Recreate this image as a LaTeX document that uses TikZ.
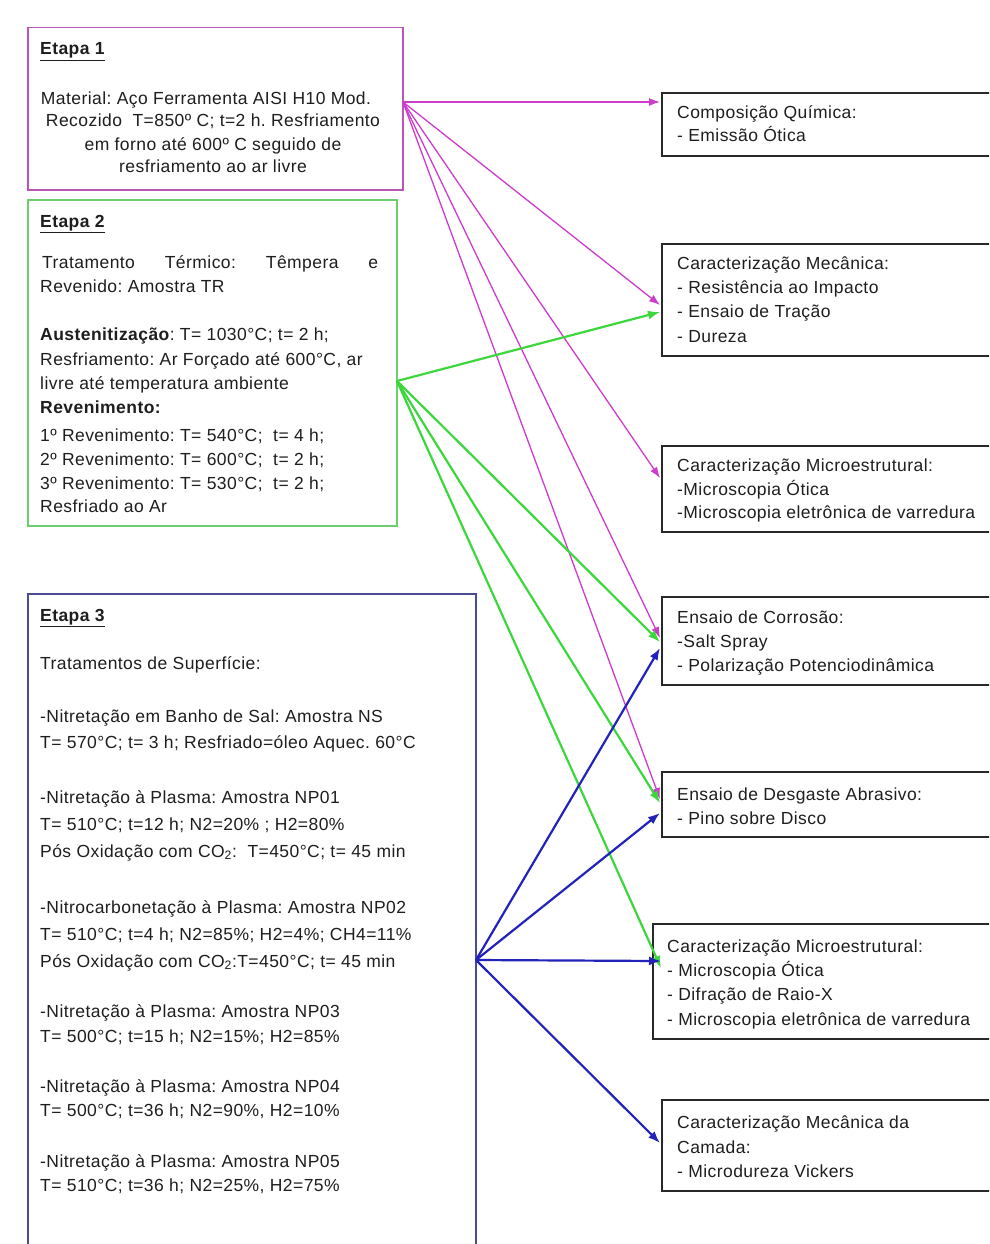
\documentclass[tikz,border=0pt]{standalone}
\usepackage{fontspec}
\setmainfont[LetterSpace=2.5]{Liberation Sans}
\usetikzlibrary{arrows.meta}
\definecolor{magA}{RGB}{205,60,205}
\definecolor{magB}{RGB}{185,85,185}
\definecolor{grnA}{RGB}{60,215,60}
\definecolor{grnB}{RGB}{110,205,110}
\definecolor{bluA}{RGB}{35,35,185}
\definecolor{bluB}{RGB}{75,75,145}
\definecolor{boxK}{RGB}{40,40,40}
\definecolor{txtK}{RGB}{30,30,30}
\begin{document}
\frenchspacing
\begin{tikzpicture}[x=1pt,y=-1pt,
 txt/.style={anchor=base west,inner sep=0pt,font=\fontsize{17.5}{21}\selectfont\frenchspacing,text=txtK},
 ctxt/.style={txt,anchor=base},
 lbox/.style={draw,line width=1.5pt,anchor=north west,inner sep=0pt},
 rbox/.style={draw=boxK,line width=1.6pt,anchor=north west,inner sep=0pt,minimum width=345pt},
 marr/.style={draw=magA,line width=1.3pt,-{Latex[length=11pt,width=8pt]}},
 garr/.style={draw=grnA,line width=2.2pt,-{Latex[length=12pt,width=9pt]}},
 barr/.style={draw=bluA,line width=2.2pt,-{Latex[length=12pt,width=9pt]}}]
\useasboundingbox (0,0) rectangle (989,1244);
\clip (0,0) rectangle (989,1244);
\fill[white] (0,0) rectangle (989,1244);

% left boxes
\node[lbox,draw=magB,minimum width=375pt,minimum height=162pt] (e1) at (27,27) {};
\node[lbox,draw=grnB,minimum width=369pt,minimum height=326pt] (e2) at (27,199) {};
\node[lbox,draw=bluB,minimum width=448pt,minimum height=680pt] (e3) at (27,593) {};

% right boxes
\node[rbox,minimum height=63pt] (r1) at (661,92) {};
\node[rbox,minimum height=112pt] (r2) at (661,243) {};
\node[rbox,minimum height=86pt] (r3) at (661,445) {};
\node[rbox,minimum height=88pt] (r4) at (661,596) {};
\node[rbox,minimum height=65pt] (r5) at (661,771) {};
\node[rbox,minimum height=115pt,minimum width=355pt] (r6) at (652,923) {};
\node[rbox,minimum height=91pt] (r7) at (661,1099) {};

% Etapa 1 text
\node[txt] (t1h) at (40,55) {\underline{\textbf{Etapa 1}}};
\node[ctxt] (t1a) at (206,105) {Material: Aço Ferramenta AISI H10 Mod.};
\node[ctxt] (t1b) at (213,127) {Recozido\ \ T=850º C; t=2 h. Resfriamento};
\node[ctxt] (t1c) at (213,150) {em forno até 600º C seguido de};
\node[ctxt] (t1d) at (213,172) {resfriamento ao ar livre};

% Etapa 2 text
\node[txt] (t2h) at (40,227) {\underline{\textbf{Etapa 2}}};
\node[txt] (t2a) at (42,268) {\makebox[336pt][s]{Tratamento Térmico: Têmpera e}};
\node[txt] (t2b) at (40,292) {Revenido: Amostra TR};
\node[txt] (t2c) at (40,340) {\textbf{Austenitização}: T= 1030°C; t= 2 h;};
\node[txt] (t2d) at (40,365) {Resfriamento: Ar Forçado até 600°C, ar};
\node[txt] (t2e) at (40,389) {livre até temperatura ambiente};
\node[txt] (t2f) at (40,413) {\textbf{Revenimento:}};
\node[txt] (t2g) at (40,441) {1º Revenimento: T= 540°C;\ \ t= 4 h;};
\node[txt] (t2i) at (40,465) {2º Revenimento: T= 600°C;\ \ t= 2 h;};
\node[txt] (t2j) at (40,489) {3º Revenimento: T= 530°C;\ \ t= 2 h;};
\node[txt] (t2k) at (40,512) {Resfriado ao Ar};

% Etapa 3 text
\node[txt] (t3h) at (40,621) {\underline{\textbf{Etapa 3}}};
\node[txt] (t3a) at (40,669) {Tratamentos de Superfície:};
\node[txt] (t3b) at (40,722) {-Nitretação em Banho de Sal: Amostra NS};
\node[txt] (t3c) at (40,748) {T= 570°C; t= 3 h; Resfriado=óleo Aquec. 60°C};
\node[txt] (t3d) at (40,803) {-Nitretação à Plasma: Amostra NP01};
\node[txt] (t3e) at (40,830) {T= 510°C; t=12 h; N2=20\% ; H2=80\%};
\node[txt] (t3f) at (40,857) {Pós Oxidação com CO\textsubscript{2}:\ \ T=450°C; t= 45 min};
\node[txt] (t3g) at (40,913) {-Nitrocarbonetação à Plasma: Amostra NP02};
\node[txt] (t3i) at (40,940) {T= 510°C; t=4 h; N2=85\%; H2=4\%; CH4=11\%};
\node[txt] (t3j) at (40,967) {Pós Oxidação com CO\textsubscript{2}:T=450°C; t= 45 min};
\node[txt] (t3k) at (40,1017) {-Nitretação à Plasma: Amostra NP03};
\node[txt] (t3l) at (40,1042) {T= 500°C; t=15 h; N2=15\%; H2=85\%};
\node[txt] (t3m) at (40,1092) {-Nitretação à Plasma: Amostra NP04};
\node[txt] (t3n) at (40,1116) {T= 500°C; t=36 h; N2=90\%, H2=10\%};
\node[txt] (t3o) at (40,1167) {-Nitretação à Plasma: Amostra NP05};
\node[txt] (t3p) at (40,1191) {T= 510°C; t=36 h; N2=25\%, H2=75\%};

% right box text
\node[txt] (a1) at (677,118) {Composição Química:};
\node[txt] (a2) at (677,142) {- Emissão Ótica};
\node[txt] (b1) at (677,269) {Caracterização Mecânica:};
\node[txt] (b2) at (677,293) {- Resistência ao Impacto};
\node[txt] (b3) at (677,317) {- Ensaio de Tração};
\node[txt] (b4) at (677,342) {- Dureza};
\node[txt] (c1) at (677,471) {Caracterização Microestrutural:};
\node[txt] (c2) at (677,495) {-Microscopia Ótica};
\node[txt] (c3) at (677,518) {-Microscopia eletrônica de varredura};
\node[txt] (d1) at (677,623) {Ensaio de Corrosão:};
\node[txt] (d2) at (677,647) {-Salt Spray};
\node[txt] (d3) at (677,671) {- Polarização Potenciodinâmica};
\node[txt] (f1) at (677,800) {Ensaio de Desgaste Abrasivo:};
\node[txt] (f2) at (677,824) {- Pino sobre Disco};
\node[txt] (h1) at (667,952) {Caracterização Microestrutural:};
\node[txt] (h2) at (667,976) {- Microscopia Ótica};
\node[txt] (h3) at (667,1000) {- Difração de Raio-X};
\node[txt] (h4) at (667,1025) {- Microscopia eletrônica de varredura};
\node[txt] (k1) at (677,1128) {Caracterização Mecânica da};
\node[txt] (k2) at (677,1153) {Camada:};
\node[txt] (k3) at (677,1177) {- Microdureza Vickers};

% connector end points
\coordinate (s1) at (403,102);
\coordinate (s2) at (397,381);
\coordinate (s3) at (476,960);
\coordinate (m1) at (660,102);
\coordinate (m2) at (660,305);
\coordinate (m3) at (660,478);
\coordinate (m4) at (660,638);
\coordinate (m5) at (660,799);
\coordinate (g2) at (660,312);
\coordinate (g4) at (660,642);
\coordinate (g5) at (660,803);
\coordinate (g6) at (661,968);
\coordinate (q4) at (660,648);
\coordinate (q5) at (660,813);
\coordinate (q6) at (661,961);
\coordinate (q7) at (660,1143);

% connectors
\draw[marr] (s1) -- (m1);
\draw[marr] (s1) -- (m2);
\draw[marr] (s1) -- (m3);
\draw[marr] (s1) -- (m4);
\draw[marr] (s1) -- (m5);
\draw[garr] (s2) -- (g2);
\draw[garr] (s2) -- (g4);
\draw[garr] (s2) -- (g5);
\draw[garr] (s2) -- (g6);
\draw[barr] (s3) -- (q4);
\draw[barr] (s3) -- (q5);
\draw[barr] (s3) -- (q6);
\draw[barr] (s3) -- (q7);
\end{tikzpicture}
\end{document}
